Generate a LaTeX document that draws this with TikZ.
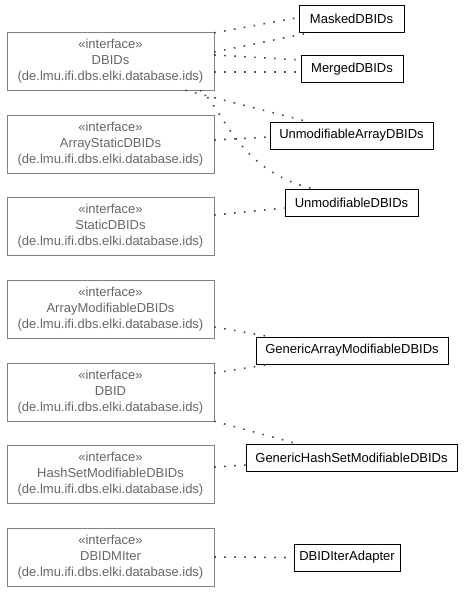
\documentclass[tikz,border=0pt]{standalone}
\usepackage{fontspec}
\setmainfont{Liberation Sans}
\begin{document}
\begin{tikzpicture}[x=1pt, y=-1pt,
  every node/.style={font=\fontsize{13}{16}\selectfont},
  iface/.style={draw=gray, text=black!60, align=center, minimum width=207pt, minimum height=58pt, inner sep=0pt},
  cls/.style={draw=black, line width=0.8pt, minimum height=27pt, inner sep=0pt},
  dep/.style={black!70, line width=1.6pt, dash pattern=on 1.6pt off 8.4pt}]
  \useasboundingbox (0,0) rectangle (464,592);
  % interfaces
  \node[iface] (dbids) at (110.5,61) {«interface»\\DBIDs\\(de.lmu.ifi.dbs.elki.database.ids)};
  \node[iface] (astatic) at (110.5,144) {«interface»\\ArrayStaticDBIDs\\(de.lmu.ifi.dbs.elki.database.ids)};
  \node[iface] (static) at (110.5,226) {«interface»\\StaticDBIDs\\(de.lmu.ifi.dbs.elki.database.ids)};
  \node[iface] (amod) at (110.5,309) {«interface»\\ArrayModifiableDBIDs\\(de.lmu.ifi.dbs.elki.database.ids)};
  \node[iface] (dbid) at (110.5,392) {«interface»\\DBID\\(de.lmu.ifi.dbs.elki.database.ids)};
  \node[iface] (hmod) at (110.5,474.5) {«interface»\\HashSetModifiableDBIDs\\(de.lmu.ifi.dbs.elki.database.ids)};
  \node[iface] (miter) at (110.5,557) {«interface»\\DBIDMIter\\(de.lmu.ifi.dbs.elki.database.ids)};
  % classes
  \node[cls, minimum width=105pt] (masked) at (351.5,18.5) {MaskedDBIDs};
  \node[cls, minimum width=102pt] (merged) at (352,69) {MergedDBIDs};
  \node[cls, minimum width=163pt] (uarray) at (351.5,135.5) {UnmodifiableArrayDBIDs};
  \node[cls, minimum width=133pt] (udbids) at (351.5,202.5) {UnmodifiableDBIDs};
  \node[cls, minimum width=192pt] (garray) at (352,350.5) {GenericArrayModifiableDBIDs};
  \node[cls, minimum width=211pt] (ghash) at (351.5,458) {GenericHashSetModifiableDBIDs};
  \node[cls, minimum width=106pt] (adapter) at (347,557.5) {DBIDIterAdapter};
  % dependencies
  \draw[dep] ([yshift=-1pt]dbids.north east) -- ([yshift=1pt]masked.west);
  \draw[dep] ([yshift=9pt]dbids.east) -- ([xshift=13pt]masked.south west);
  \draw[dep] ([yshift=6pt]dbids.east) -- ([yshift=9pt]merged.west);
  \draw[dep] ([yshift=-11pt]dbids.east) -- ([yshift=-3pt]merged.west);
  \draw[dep] ([xshift=-29pt]dbids.south east) -- ([xshift=38pt]uarray.north west);
  \draw[dep] ([xshift=-14pt]dbids.south east) .. controls (222,105) and (235,170) .. ([xshift=28pt]udbids.north west);
  \draw[dep] ([yshift=4pt]astatic.east) -- ([yshift=-1.5pt]uarray.west);
  \draw[dep] ([yshift=11pt]static.east) -- ([yshift=-5.5pt]udbids.west);
  \draw[dep] ([yshift=-18pt]amod.east) -- ([xshift=14pt]garray.north west);
  \draw[dep] ([yshift=19pt]dbid.east) -- ([xshift=14pt]garray.south west);
  \draw[dep] (dbid.south east) -- ([xshift=53pt]ghash.north west);
  \draw[dep] ([yshift=7.5pt]hmod.east) -- ([yshift=-7pt]ghash.west);
  \draw[dep] (miter.east) -- (adapter.west);
\end{tikzpicture}
\end{document}
